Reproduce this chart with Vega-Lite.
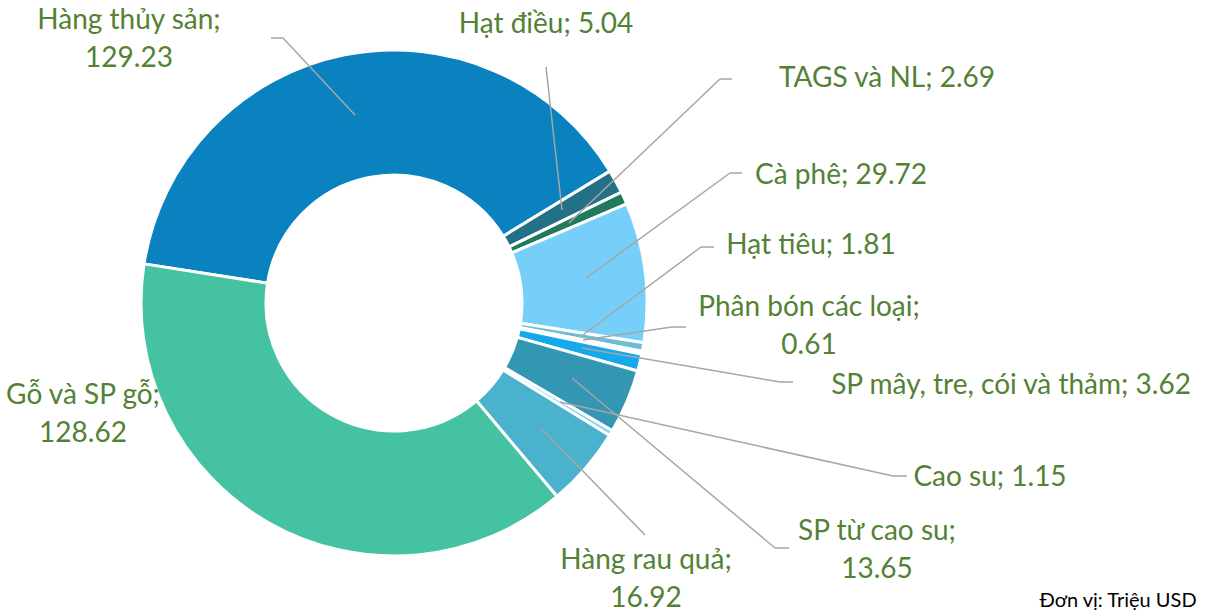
{
  "$schema": "https://vega.github.io/schema/vega-lite/v6.json",
  "width": 1211,
  "height": 613,
  "padding": 0,
  "autosize": {"type": "none"},
  "background": "white",
  "config": {"view": {"stroke": null}},
  "datasets": {
    "slices": [
      {"idx": 1, "category": "Hàng thủy sản", "value": 129.23},
      {"idx": 2, "category": "Hạt điều", "value": 5.04},
      {"idx": 3, "category": "TAGS và NL", "value": 2.69},
      {"idx": 4, "category": "Cà phê", "value": 29.72},
      {"idx": 5, "category": "Hạt tiêu", "value": 1.81},
      {"idx": 6, "category": "Phân bón các loại", "value": 0.61},
      {"idx": 7, "category": "SP mây, tre, cói và thảm", "value": 3.62},
      {"idx": 8, "category": "SP từ cao su", "value": 13.65},
      {"idx": 9, "category": "Cao su", "value": 1.15},
      {"idx": 10, "category": "Hàng rau quả", "value": 16.92},
      {"idx": 11, "category": "Gỗ và SP gỗ", "value": 128.62}
    ],
    "labels": [
      {"label": "Hàng thủy sản;\n129.23", "lx": -265, "ly": -282},
      {"label": "Hạt điều; 5.04", "lx": 152, "ly": -278},
      {"label": "TAGS và NL; 2.69", "lx": 493, "ly": -224},
      {"label": "Cà phê; 29.72", "lx": 447, "ly": -127},
      {"label": "Hạt tiêu; 1.81", "lx": 417, "ly": -57},
      {"label": "Phân bón các loại;\n0.61", "lx": 415, "ly": 5},
      {"label": "SP mây, tre, cói và thảm; 3.62", "lx": 617, "ly": 83},
      {"label": "Cao su; 1.15", "lx": 596, "ly": 175},
      {"label": "SP từ cao su;\n13.65", "lx": 483, "ly": 229},
      {"label": "Hàng rau quả;\n16.92", "lx": 252, "ly": 258},
      {"label": "Gỗ và SP gỗ;\n128.62", "lx": -311, "ly": 93}
    ],
    "leaders": [
      {"x1": -123, "y1": -265, "x2": -111, "y2": -265},
      {"x1": -111, "y1": -265, "x2": -39, "y2": -188},
      {"x1": 152, "y1": -236, "x2": 168, "y2": -93},
      {"x1": 338, "y1": -224, "x2": 326, "y2": -224},
      {"x1": 326, "y1": -224, "x2": 175, "y2": -80},
      {"x1": 348, "y1": -130, "x2": 336, "y2": -130},
      {"x1": 336, "y1": -130, "x2": 192, "y2": -25},
      {"x1": 320, "y1": -56, "x2": 307, "y2": -56},
      {"x1": 307, "y1": -56, "x2": 189, "y2": 32},
      {"x1": 189, "y1": 37, "x2": 278, "y2": 24},
      {"x1": 278, "y1": 24, "x2": 292, "y2": 24},
      {"x1": 188, "y1": 45, "x2": 386, "y2": 79},
      {"x1": 386, "y1": 79, "x2": 399, "y2": 79},
      {"x1": 166, "y1": 99, "x2": 499, "y2": 173},
      {"x1": 499, "y1": 173, "x2": 513, "y2": 173},
      {"x1": 178, "y1": 75, "x2": 381, "y2": 245},
      {"x1": 381, "y1": 245, "x2": 395, "y2": 245},
      {"x1": 147, "y1": 125, "x2": 251, "y2": 232}
    ],
    "note": [
      {"text": "Đơn vị: Triệu USD", "nx": 724, "ny": 298}
    ]
  },
  "layer": [
    {
      "data": {"name": "slices"},
      "mark": {"type": "arc", "outerRadius": 253, "innerRadius": 128, "stroke": "white", "strokeWidth": 3},
      "encoding": {
        "theta": {"field": "value", "type": "quantitative", "stack": true, "scale": {"range": [-1.4155, 4.8677]}},
        "order": {"field": "idx", "type": "quantitative"},
        "color": {
          "field": "category", "type": "nominal", "legend": null,
          "scale": {
            "domain": ["Hàng thủy sản", "Hạt điều", "TAGS và NL", "Cà phê", "Hạt tiêu", "Phân bón các loại", "SP mây, tre, cói và thảm", "SP từ cao su", "Cao su", "Hàng rau quả", "Gỗ và SP gỗ"],
            "range": ["#0A82BF", "#237186", "#217A5E", "#75CFF8", "#6EBCD6", "#B4E2F2", "#15A9EC", "#3396B3", "#8AD3F0", "#4BB2CE", "#45C2A1"]
          }
        },
        "x": {"datum": 0, "type": "quantitative", "axis": null, "scale": {"domain": [-394, 817], "nice": false, "zero": false}},
        "y": {"datum": 0, "type": "quantitative", "axis": null, "scale": {"domain": [-303, 310], "nice": false, "zero": false, "reverse": true}}
      }
    },
    {
      "data": {"name": "leaders"},
      "mark": {"type": "rule", "color": "#A6A6A6", "strokeWidth": 1.5},
      "encoding": {
        "x": {"field": "x1", "type": "quantitative", "axis": null, "scale": {"domain": [-394, 817], "nice": false, "zero": false}},
        "y": {"field": "y1", "type": "quantitative", "axis": null, "scale": {"domain": [-303, 310], "nice": false, "zero": false, "reverse": true}},
        "x2": {"field": "x2"},
        "y2": {"field": "y2"}
      }
    },
    {
      "data": {"name": "labels"},
      "mark": {"type": "text", "align": "center", "baseline": "middle", "font": "Lato", "fontSize": 28, "letterSpacing": 0.7, "color": "#538135", "lineBreak": "\n", "lineHeight": 38},
      "encoding": {
        "x": {"field": "lx", "type": "quantitative", "axis": null, "scale": {"domain": [-394, 817], "nice": false, "zero": false}},
        "y": {"field": "ly", "type": "quantitative", "axis": null, "scale": {"domain": [-303, 310], "nice": false, "zero": false, "reverse": true}},
        "text": {"field": "label", "type": "nominal"}
      }
    },
    {
      "data": {"name": "note"},
      "mark": {"type": "text", "align": "center", "baseline": "middle", "font": "Lato", "fontSize": 20, "letterSpacing": 0.8, "color": "#000000"},
      "encoding": {
        "x": {"field": "nx", "type": "quantitative", "axis": null, "scale": {"domain": [-394, 817], "nice": false, "zero": false}},
        "y": {"field": "ny", "type": "quantitative", "axis": null, "scale": {"domain": [-303, 310], "nice": false, "zero": false, "reverse": true}},
        "text": {"field": "text", "type": "nominal"}
      }
    }
  ]
}
